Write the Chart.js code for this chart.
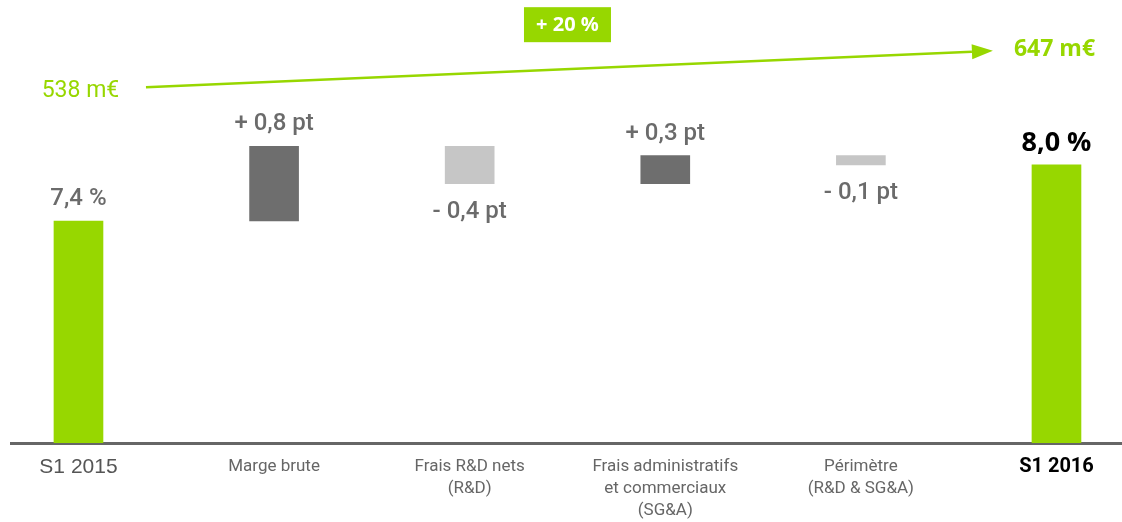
<!DOCTYPE html>
<html lang="fr">
<head>
<meta charset="utf-8">
<title>Marge opérationnelle S1 2016</title>
<script src="https://cdn.jsdelivr.net/npm/chart.js@4.4.1/dist/chart.umd.min.js"></script>
<style>
  html, body { margin: 0; padding: 0; background: #fff; }
  #wrap { width: 1122px; height: 522px; }
</style>
</head>
<body>
<div id="wrap"><canvas id="chartMarge" width="1122" height="522"></canvas></div>
<script>
// données du graphique
const categories = [
    'S1 2015',
    'Marge brute',
    ['Frais R&D nets', '(R&D)'],
    ['Frais administratifs', 'et commerciaux', '(SG&A)'],
    ['Périmètre', '(R&D & SG&A)'],
    'S1 2016'
];
const margeDebut = 7.4;                  // %
const variations = [0.8, -0.4, 0.3, -0.1]; // pt
const margeFin = 8.0;                    // %
const chiffreAffaires = [538, 647];      // m€
const croissanceCA = 20;                 // %

const VERT = '#97d700';
const GRIS_FONCE = '#6e6e6e';
const GRIS_CLAIR = '#c6c6c6';

function fmt(v) {
    return Math.abs(v).toFixed(1).replace('.', ',');
}

// barres flottantes pour la cascade
let cumul = margeDebut;
const barData = [{ x: 0, y: margeDebut }];
variations.forEach((v, i) => {
    barData.push({ x: i + 1, y: [cumul, cumul + v] });
    cumul += v;
});
barData.push({ x: categories.length - 1, y: margeFin });

const barColors = [VERT, ...variations.map(v => v > 0 ? GRIS_FONCE : GRIS_CLAIR), VERT];
const textes = [
    fmt(margeDebut) + ' %',
    ...variations.map(v => (v > 0 ? '+ ' : '- ') + fmt(v) + ' pt'),
    fmt(margeFin) + ' %'
];

// étiquettes de valeur sur les barres
const valueLabels = {
    id: 'valueLabels',
    afterDatasetsDraw(chart) {
        const ctx = chart.ctx;
        const meta = chart.getDatasetMeta(0);
        ctx.save();
        ctx.textAlign = 'center';
        ctx.textBaseline = 'middle';
        meta.data.forEach((bar, i) => {
            const top = Math.min(bar.y, bar.base);
            const bottom = Math.max(bar.y, bar.base);
            const last = i === meta.data.length - 1;
            const neg = i > 0 && !last && variations[i - 1] < 0;
            if (last) {
                ctx.font = 'bold 27px "Open Sans"';
                ctx.fillStyle = '#000';
            } else {
                ctx.font = '500 24px Roboto';
                ctx.fillStyle = '#6b6b6b';
            }
            const y = neg ? bottom + 28 : top - 22;
            ctx.fillText(textes[i], bar.x, y);
        });
        ctx.restore();
    }
};

// flèche du chiffre d'affaires
const caArrow = {
    id: 'caArrow',
    afterDatasetsDraw(chart, args, opts) {
        const ctx = chart.ctx;
        const xs = chart.scales.x, ys = chart.scales.y;
        const x1 = xs.getPixelForValue(opts.from.x), y1 = ys.getPixelForValue(opts.from.y);
        const x2 = xs.getPixelForValue(opts.to.x), y2 = ys.getPixelForValue(opts.to.y);
        const ang = Math.atan2(y2 - y1, x2 - x1);
        const headLen = 21, headHalf = 7.5;
        const bx = x2 - headLen * Math.cos(ang), by = y2 - headLen * Math.sin(ang);

        ctx.save();
        ctx.strokeStyle = VERT;
        ctx.fillStyle = VERT;
        ctx.lineWidth = 2.5;
        ctx.beginPath();
        ctx.moveTo(x1, y1);
        ctx.lineTo(bx, by);
        ctx.stroke();
        ctx.beginPath();
        ctx.moveTo(x2, y2);
        ctx.lineTo(bx + headHalf * Math.sin(ang), by - headHalf * Math.cos(ang));
        ctx.lineTo(bx - headHalf * Math.sin(ang), by + headHalf * Math.cos(ang));
        ctx.closePath();
        ctx.fill();

        ctx.textAlign = 'center';
        ctx.textBaseline = 'middle';
        ctx.font = '23px Roboto';
        ctx.fillText(chiffreAffaires[0] + ' m€',
            xs.getPixelForValue(opts.startLabel.x), ys.getPixelForValue(opts.startLabel.y));
        ctx.font = 'bold 23px "Open Sans"';
        ctx.fillText(chiffreAffaires[1] + ' m€',
            xs.getPixelForValue(opts.endLabel.x), ys.getPixelForValue(opts.endLabel.y));

        // encadré croissance
        const cx = xs.getPixelForValue(opts.badge.x), cy = ys.getPixelForValue(opts.badge.y);
        ctx.fillRect(cx - 43.5, cy - 17.5, 87, 35);
        ctx.fillStyle = '#fff';
        ctx.font = 'bold 20px "Open Sans"';
        ctx.fillText('+ ' + croissanceCA + ' %', cx, cy + 1);
        ctx.restore();
    }
};

const ctx = document.getElementById('chartMarge').getContext('2d');
new Chart(ctx, {
    type: 'bar',
    data: {
        datasets: [{
            data: barData,
            backgroundColor: barColors,
            borderWidth: 0,
            barThickness: 49
        }]
    },
    options: {
        responsive: false,
        animation: false,
        devicePixelRatio: 1,
        layout: { padding: { left: 11, right: 0, top: 0, bottom: 0 } },
        plugins: {
            legend: { display: false },
            tooltip: { enabled: false },
            caArrow: {
                from: { x: 0.345, y: 8.83 },
                to: { x: 4.675, y: 9.22 },
                startLabel: { x: 0.01, y: 8.79 },
                endLabel: { x: 4.99, y: 9.24 },
                badge: { x: 2.5, y: 9.5 }
            }
        },
        scales: {
            x: {
                type: 'linear',
                offset: false,
                min: -0.345,
                max: 5.335,
                z: 1,
                grid: { display: false, drawTicks: false },
                border: { display: true, color: '#666', width: 3 },
                afterBuildTicks: s => { s.ticks = categories.map((c, i) => ({ value: i })); },
                afterFit: s => { s.height = 79; },
                ticks: {
                    autoSkip: false,
                    maxRotation: 0,
                    padding: 13,
                    callback: v => categories[v],
                    font: c => {
                        if (c.index === 0) return { family: 'Liberation Sans', size: 21, lineHeight: '22px' };
                        if (c.index === categories.length - 1) return { family: 'Roboto', size: 20, weight: 'bold', lineHeight: '22px' };
                        return { family: 'Roboto', size: 17, lineHeight: '22px' };
                    },
                    color: c => c.index === 0 ? '#555' : (c.index === categories.length - 1 ? '#000' : '#666')
                }
            },
            y: {
                display: false,
                min: 5.026,
                max: 9.764
            }
        }
    },
    plugins: [valueLabels, caArrow]
});
</script>
</body>
</html>
